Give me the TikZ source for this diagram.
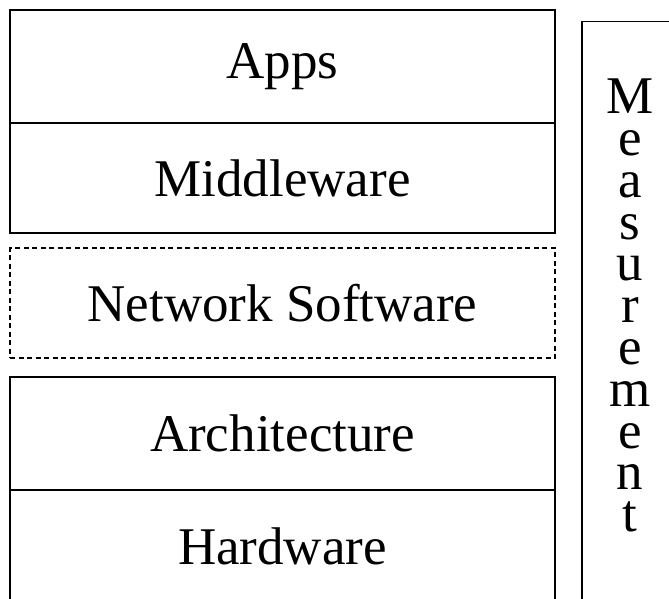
\documentclass[tikz,border=0pt]{standalone}
\usepackage{fontspec}
\setmainfont{Liberation Serif}
\begin{document}
\begin{tikzpicture}[x=1pt,y=-1pt,
  layer/.style={draw, line width=1.3pt, rectangle, inner sep=0pt, minimum width=545pt, font=\fontsize{53}{60}\selectfont},
  dashedlayer/.style={layer, dash pattern=on 5pt off 3.5pt},
  vertlabel/.style={inner sep=0pt, align=center, font=\fontsize{53}{41.8}\selectfont}]
\useasboundingbox (0,0) rectangle (669,598);
\clip (0,0) rectangle (669,598);
\fill[white] (0,0) rectangle (669,598);
\node[layer, minimum height=113pt] (apps) at (282.5,66.5) {Apps};
\node[layer, minimum height=110pt] (mid) at (282.5,178) {Middleware};
\node[dashedlayer, minimum height=110pt] (net) at (282.5,303) {Network Software};
\node[layer, minimum height=113pt] (arch) at (282.5,433.5) {Architecture};
\node[layer, minimum height=113pt] (hard) at (282.5,546.5) {Hardware};
\draw[line width=1.3pt] (582,21.5) rectangle (720,660);
\node[vertlabel] (meas) at (630,305.5) {M\\e\\a\\s\\u\\r\\e\\m\\e\\n\\t};
\end{tikzpicture}
\end{document}
